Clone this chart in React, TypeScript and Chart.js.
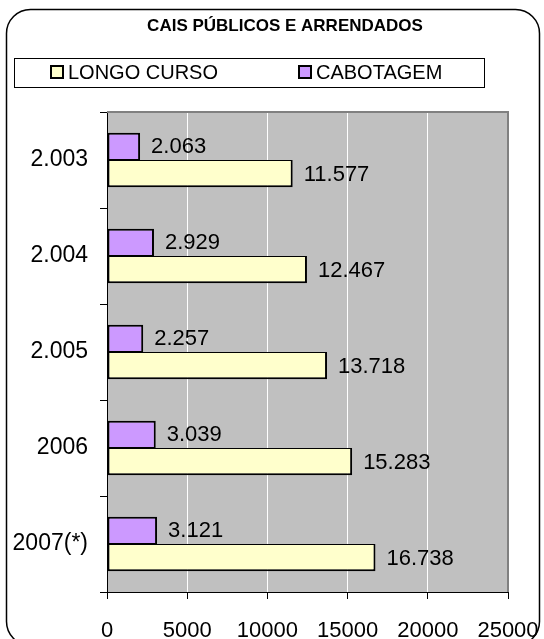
import React, { useEffect, useRef } from "react";
import { Chart, registerables } from "chart.js";

Chart.register(...registerables);

const TITLE = "CAIS PÚBLICOS E ARRENDADOS";
const CATEGORIES = ["2.003", "2.004", "2.005", "2006", "2007(*)"];
const CABOTAGEM = [2063, 2929, 2257, 3039, 3121];
const LONGO_CURSO = [11577, 12467, 13718, 15283, 16738];
const X_TICKS = [0, 5000, 10000, 15000, 20000, 25000];
const SERIES_NAMES = ["CABOTAGEM", "LONGO CURSO"];
const LEGEND_ORDER = ["LONGO CURSO", "CABOTAGEM"];

const FONT = '"Liberation Sans", Arial, sans-serif';

function fmt(v: number): string {
  return String(v).replace(/\B(?=(\d{3})+(?!\d))/g, ".");
}

const decorPlugin = {
  id: "decor",
  beforeDraw(chart: any) {
    const ctx = chart.ctx;
    const { left, top, right, bottom } = chart.chartArea;
    ctx.save();
    ctx.fillStyle = "#ffffff";
    ctx.fillRect(0, 0, chart.width, chart.height);

    // outer rounded frame
    ctx.beginPath();
    ctx.roundRect(6.5, 9.5, 533, 636, 24);
    ctx.lineWidth = 1.5;
    ctx.strokeStyle = "#000";
    ctx.stroke();

    // title
    ctx.fillStyle = "#000";
    ctx.font = `bold 17px ${FONT}`;
    ctx.textAlign = "center";
    ctx.textBaseline = "middle";
    ctx.fillText(TITLE, 285, 26);

    // legend box
    ctx.lineWidth = 1;
    ctx.strokeStyle = "#000";
    ctx.strokeRect(14.5, 58.5, 470, 29);

    const xs = [50, 298];
    LEGEND_ORDER.forEach((name, i) => {
      const ds = chart.data.datasets.find((d: any) => d.label === name);
      if (!ds) return;
      const x = xs[i];
      ctx.fillStyle = ds.backgroundColor;
      ctx.fillRect(x + 1, 66, 12, 12);
      ctx.lineWidth = 2;
      ctx.strokeStyle = "#000";
      ctx.strokeRect(x + 1, 66, 12, 12);
      ctx.fillStyle = "#000";
      ctx.font = `20px ${FONT}`;
      ctx.textAlign = "left";
      ctx.textBaseline = "middle";
      ctx.fillText(ds.label, x + 18, 73);
    });

    // plot area background
    ctx.fillStyle = "#C0C0C0";
    ctx.fillRect(left, top, right - left, bottom - top);
    ctx.restore();
  },
  afterDatasetsDraw(chart: any) {
    const ctx = chart.ctx;
    const { left, top, right, bottom } = chart.chartArea;
    ctx.save();
    // plot border top/right
    ctx.strokeStyle = "#808080";
    ctx.lineWidth = 2;
    ctx.beginPath();
    ctx.moveTo(left, top);
    ctx.lineTo(right, top);
    ctx.lineTo(right, bottom);
    ctx.stroke();

    ctx.fillStyle = "#000";
    ctx.font = `22px ${FONT}`;
    ctx.textAlign = "left";
    ctx.textBaseline = "middle";
    chart.data.datasets.forEach((ds: any, di: number) => {
      const meta = chart.getDatasetMeta(di);
      meta.data.forEach((bar: any, i: number) => {
        ctx.fillText(fmt(ds.data[i]), bar.x + 11, bar.y + 1);
      });
    });
    ctx.restore();
  },
};

export default function App() {
  const ref = useRef<HTMLCanvasElement | null>(null);

  useEffect(() => {
    if (!ref.current) return;
    const chart = new Chart(ref.current, {
      type: "bar",
      data: {
        labels: CATEGORIES,
        datasets: [
          {
            label: SERIES_NAMES[0],
            data: CABOTAGEM,
            backgroundColor: "#CC99FF",
            borderColor: "#000",
            borderWidth: { top: 2, left: 2, right: 2, bottom: 1 },
            borderSkipped: false,
          },
          {
            label: SERIES_NAMES[1],
            data: LONGO_CURSO,
            backgroundColor: "#FFFFCC",
            borderColor: "#000",
            borderWidth: { top: 1, left: 2, right: 2, bottom: 2 },
            borderSkipped: false,
          },
        ],
      },
      options: {
        indexAxis: "y",
        responsive: false,
        animation: false,
        devicePixelRatio: 1,
        categoryPercentage: 0.57,
        barPercentage: 1,
        layout: { padding: { top: 112, right: 36, bottom: 0, left: 0 } },
        plugins: {
          legend: { display: false },
          title: { display: false },
          tooltip: { enabled: false },
        },
        scales: {
          x: {
            type: "linear",
            min: 0,
            max: 25000,
            afterBuildTicks: (s: any) => {
              s.ticks = X_TICKS.map((v) => ({ value: v }));
            },
            afterFit: (s: any) => {
              s.height = 47;
              s.paddingLeft = 0;
              s.paddingRight = 0;
            },
            grid: { color: "#ffffff", tickColor: "#000", tickLength: 7, lineWidth: 1 },
            border: { color: "#000", width: 1 },
            ticks: {
              color: "#000",
              font: { family: FONT, size: 22 },
              padding: 19,
              maxRotation: 0,
              autoSkip: false,
              callback: (v: any) => String(v),
            },
          },
          y: {
            type: "category",
            afterFit: (s: any) => {
              s.width = 107;
              s.paddingTop = 0;
              s.paddingBottom = 0;
            },
            grid: { drawOnChartArea: false, tickColor: "#000", tickLength: 7, offset: true },
            border: { color: "#000", width: 1 },
            ticks: {
              color: "#000",
              font: { family: FONT, size: 23 },
              padding: 12,
              autoSkip: false,
            },
          },
        },
      },
      plugins: [decorPlugin],
    } as any);
    return () => chart.destroy();
  }, []);

  return (
    <div style={{ position: "fixed", left: 0, top: 0, width: 544, height: 639 }}>
      <canvas ref={ref} width={544} height={639} style={{ display: "block" }} />
    </div>
  );
}
